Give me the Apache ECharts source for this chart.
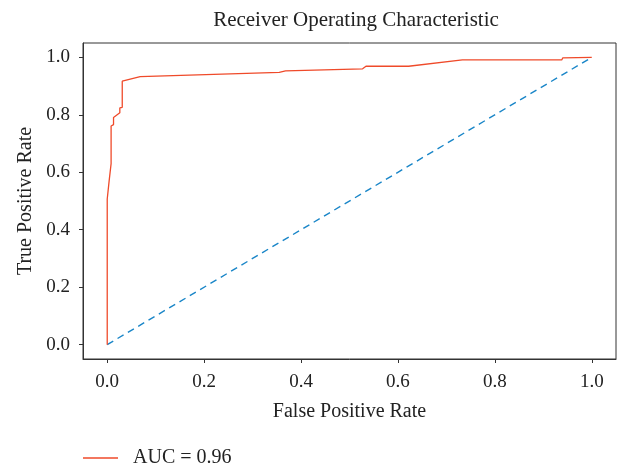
<!DOCTYPE html>
<html>
<head>
<meta charset="utf-8">
<script src="https://cdn.jsdelivr.net/npm/echarts@6/dist/echarts.min.js"></script>
<style>
  html, body { margin: 0; padding: 0; background: #fff; }
  #chart { width: 622px; height: 468px; }
</style>
</head>
<body>
<div id="chart"></div>
<script>
  // ROC points
  const fpr = [0, 0, 0.002, 0.004, 0.008, 0.008, 0.013, 0.013, 0.016, 0.026, 0.026, 0.031, 0.031, 0.068, 0.355, 0.368, 0.527, 0.534, 0.622, 0.733, 0.938, 0.940, 1.0];
  const tpr = [0, 0.507, 0.512, 0.571, 0.63, 0.761, 0.766, 0.791, 0.793, 0.807, 0.824, 0.826, 0.917, 0.933, 0.948, 0.953, 0.960, 0.969, 0.969, 0.991, 0.991, 0.998, 1.0];
  const chanceLine = [[0, 0], [1, 1]];
  const tickValues = [0, 0.2, 0.4, 0.6, 0.8, 1.0];
  const aucLabel = 'AUC = 0.96';

  const font = '"Liberation Serif", "DejaVu Serif", serif';
  const rocData = fpr.map((x, i) => [x, tpr[i]]);

  const myChart = echarts.init(document.getElementById('chart'));
  myChart.setOption({
    animation: false,
    title: {
      text: 'Receiver Operating Characteristic',
      left: 351,
      textAlign: 'center',
      top: 5,
      textStyle: { fontFamily: font, fontSize: 21, fontWeight: 'normal', color: '#222' }
    },
    legend: {
      data: [{ name: aucLabel, icon: 'rect' }],
      left: 78,
      top: 443,
      itemWidth: 35,
      itemHeight: 1.3,
      itemGap: 14,
      textStyle: { fontFamily: font, fontSize: 20, color: '#222', padding: [0, 0, 0, 10] }
    },
    grid: {
      left: 83, right: 6, top: 43, bottom: 109,
      show: true, borderColor: '#333', borderWidth: 1
    },
    xAxis: {
      type: 'value',
      min: -0.05, max: 1.05,
      name: 'False Positive Rate',
      nameLocation: 'middle',
      nameGap: 43,
      nameTextStyle: { fontFamily: font, fontSize: 20, color: '#222' },
      axisLine: { show: true, onZero: false, lineStyle: { color: '#333' } },
      axisTick: { show: true, length: 4, customValues: tickValues, lineStyle: { color: '#333' } },
      axisLabel: {
        customValues: tickValues, margin: 14,
        fontFamily: font, fontSize: 19, color: '#222',
        formatter: v => v.toFixed(1)
      },
      splitLine: { show: false }
    },
    yAxis: {
      type: 'value',
      min: -0.05, max: 1.05,
      name: 'True Positive Rate',
      nameLocation: 'middle',
      nameGap: 47,
      nameTextStyle: { fontFamily: font, fontSize: 20, color: '#222' },
      axisLine: { show: true, onZero: false, lineStyle: { color: '#333' } },
      axisTick: { show: true, length: 4, customValues: tickValues, lineStyle: { color: '#333' } },
      axisLabel: {
        customValues: tickValues, margin: 13,
        fontFamily: font, fontSize: 19, color: '#222',
        formatter: v => v.toFixed(1)
      },
      splitLine: { show: false }
    },
    series: [
      {
        name: aucLabel,
        type: 'line',
        data: rocData,
        symbol: 'none',
        lineStyle: { color: '#ef4a2a', width: 1.3 },
        itemStyle: { color: '#ef4a2a' },
        z: 3
      },
      {
        name: 'chance',
        type: 'line',
        data: chanceLine,
        symbol: 'none',
        lineStyle: { color: '#1a86c8', width: 1.4, type: [7, 5] },
        z: 2
      }
    ]
  });
</script>
</body>
</html>
